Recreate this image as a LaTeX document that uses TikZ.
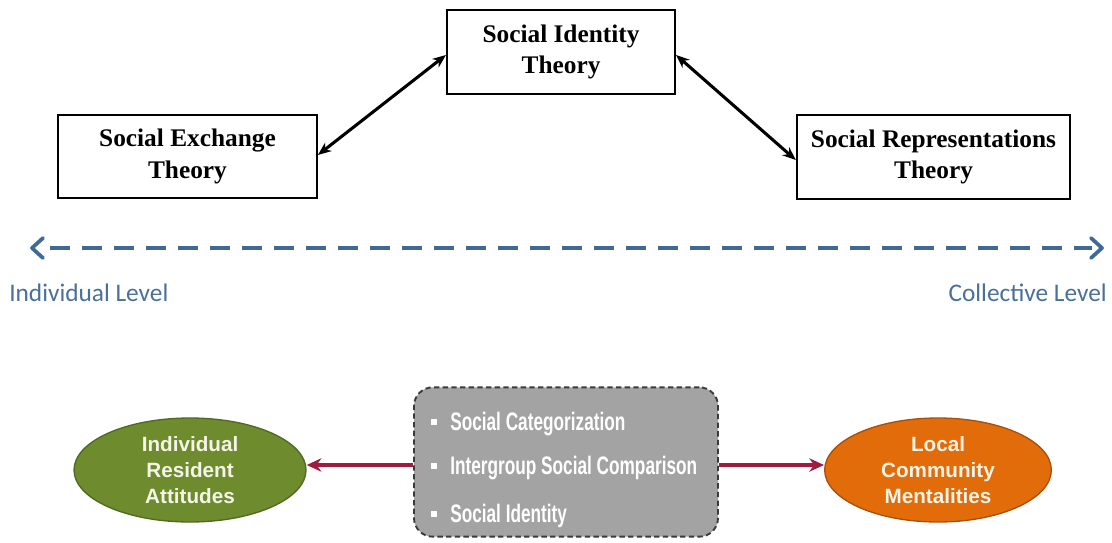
\documentclass[tikz,border=0pt]{standalone}
\usepackage{fontspec}
\setmainfont{Liberation Serif}
\newfontfamily\calibri{Carlito}
\newfontfamily\arialb{Liberation Sans}[Scale=1.0]
\newfontfamily\narrowb{Liberation Sans}[FakeStretch=0.68]
\usetikzlibrary{arrows.meta,shapes.geometric}
\definecolor{dashblue}{HTML}{3F6A97}
\definecolor{lvlblue}{HTML}{4A6F98}
\definecolor{olivefill}{HTML}{6E8B2E}
\definecolor{olivedraw}{HTML}{4F6A22}
\definecolor{orangefill}{HTML}{E36C0A}
\definecolor{orangedraw}{HTML}{A94F0C}
\definecolor{boxgray}{HTML}{A3A3A3}
\definecolor{boxedge}{HTML}{3A3A3A}
\definecolor{crimson}{HTML}{A01C3E}
\definecolor{cream}{HTML}{F4F4E8}
\tikzset{
  theory/.style={draw=black, line width=1.6pt, fill=white, inner sep=0pt, align=center,
    font=\fontsize{19}{23.5}\selectfont\bfseries},
  biarrow/.style={line width=2.3pt, {Stealth[length=10pt,width=8pt]}-{Stealth[length=10pt,width=8pt]}},
  levellabel/.style={text=lvlblue, font=\calibri\fontsize{19}{22}\selectfont, inner sep=0pt},
  blob/.style={ellipse, line width=1pt, inner sep=0pt, align=center, text=cream,
    font=\bfseries\arialb\fontsize{15.5}{19.5}\selectfont},
  redarrow/.style={crimson, line width=2.4pt, -{Stealth[length=11pt,width=10pt]}},
  bulletitem/.style={anchor=west, text=white, inner sep=0pt, font=\bfseries\narrowb\fontsize{19}{20}\selectfont},
}
\begin{document}
\begin{tikzpicture}[x=0.75pt,y=-0.75pt]
\useasboundingbox (0,0) rectangle (1112,542);
% top theory boxes
\node[theory, minimum width=171pt, minimum height=63pt] (sit) at (561,52) {Social Identity\\Theory};
\node[theory, minimum width=194pt, minimum height=62pt] (set) at (187.5,156.5) {Social Exchange\\Theory};
\node[theory, minimum width=205pt, minimum height=63pt] (srt) at (933.5,157) {Social Representations\\Theory};
\draw[biarrow] (set.east |- 0,155) -- (sit.west |- 0,55);
\draw[biarrow] (sit.east |- 0,55) -- (srt.west |- 0,160);
% level line
\coordinate (lend) at (32,248);
\coordinate (rend) at (1102,248);
\draw[dashblue, line width=2.6pt, dash pattern=on 15pt off 9pt, dash phase=-6pt] (42,248) -- (1092,248);
\draw[dashblue, line width=2.8pt, line cap=round, line join=round] (43,238) -- (lend) -- (43,258);
\draw[dashblue, line width=2.8pt, line cap=round, line join=round] (1091,238) -- (rend) -- (1091,258);
\node[levellabel, anchor=west] (indiv) at (9,293) {Individual Level};
\node[levellabel, anchor=east] (coll) at (1107,293) {Collective Level};
% bottom
\node[blob, fill=olivefill, draw=olivedraw, minimum width=174pt, minimum height=78pt] (ira) at (190,470) {Individual\\Resident\\Attitudes};
\node[blob, fill=orangefill, draw=orangedraw, minimum width=170pt, minimum height=78pt] (lcm) at (938,470) {Local\\Community\\Mentalities};
\node[draw=boxedge, fill=boxgray, line width=1.4pt, dashed, dash pattern=on 4pt off 2.5pt, rounded corners=14pt,
  minimum width=228pt, minimum height=112pt, inner sep=0pt] (sic) at (566,462) {};
\node[bulletitem] (b1) at (450,424) {Social Categorization};
\node[bulletitem] (b2) at (450,468) {Intergroup Social Comparison};
\node[bulletitem] (b3) at (450,516) {Social Identity};
\foreach \b in {b1,b2,b3}{
  \fill[white] ([xshift=-14pt,yshift=-0.5pt]\b.west) rectangle ++(4.2pt,4.2pt);
}
\draw[redarrow] (sic.west |- 0,465) -- (ira.east |- 0,465);
\draw[redarrow] (sic.east |- 0,465) -- (lcm.west |- 0,465);
\end{tikzpicture}
\end{document}
